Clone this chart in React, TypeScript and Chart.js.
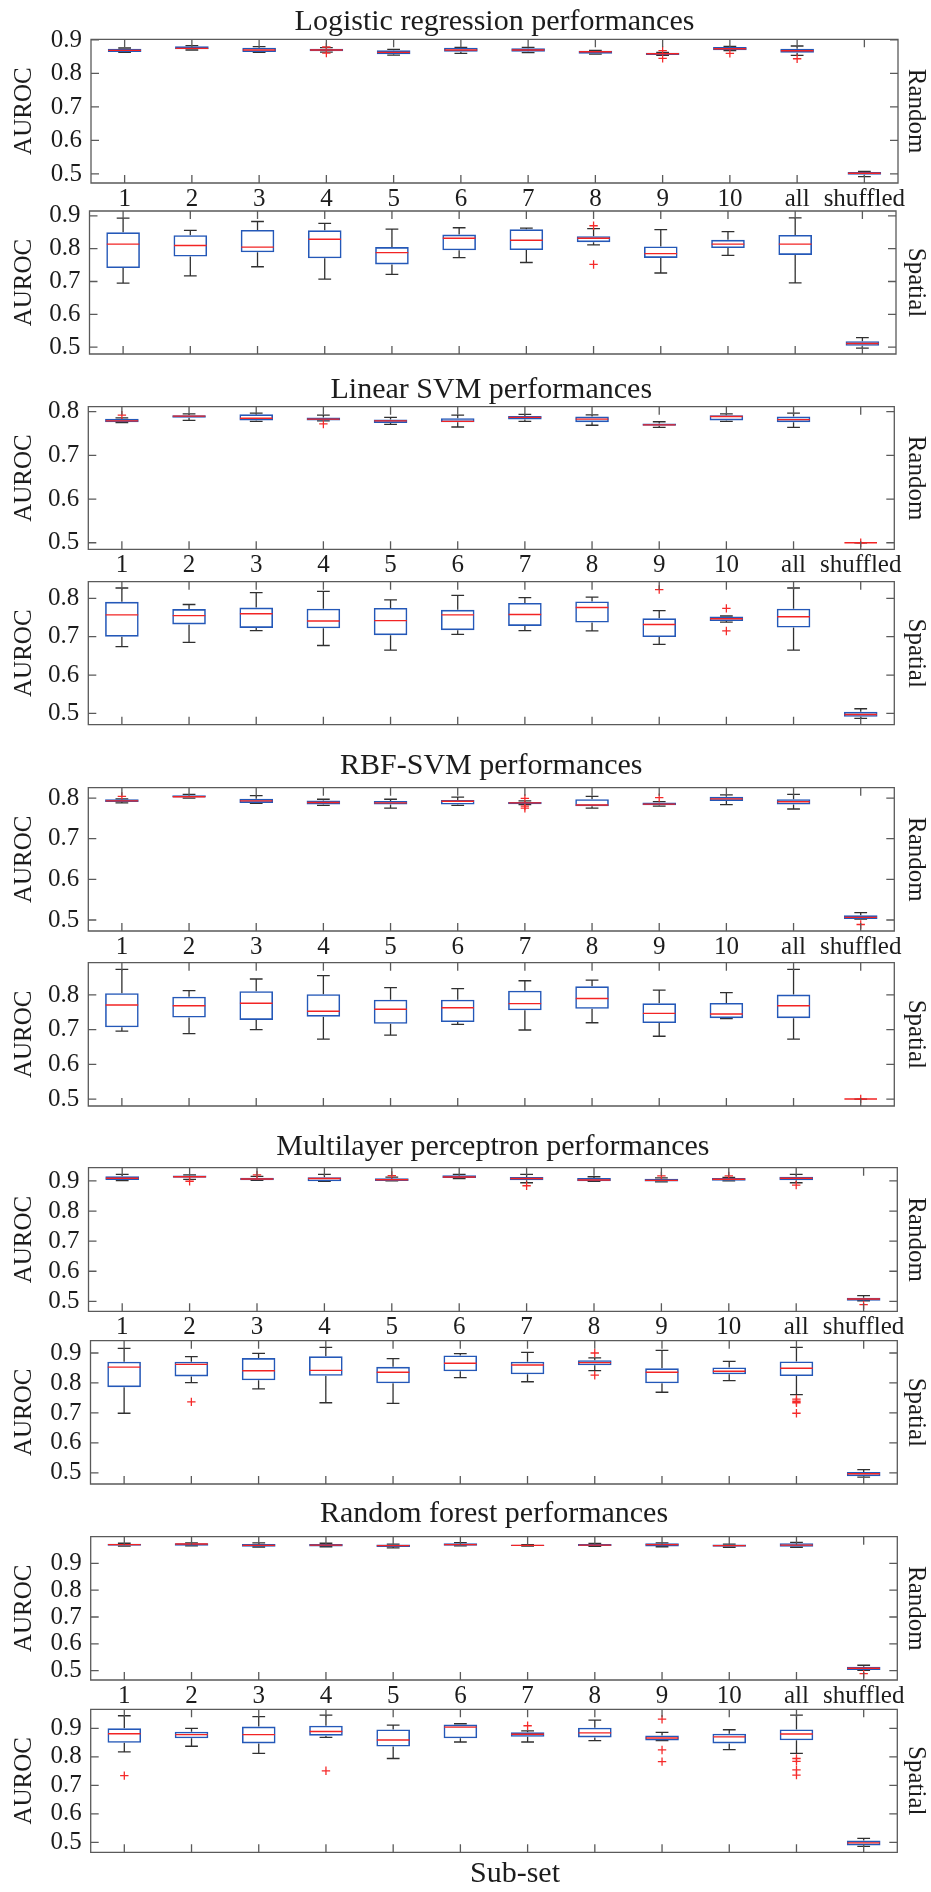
import React, { useEffect, useRef } from 'react';
import { Chart, registerables } from 'chart.js';

Chart.register(...registerables);

// ---- Data -----------------------------------------------------------------

const subsets = ['1', '2', '3', '4', '5', '6', '7', '8', '9', '10', 'all', 'shuffled'];
const ticksTo09 = [0.5, 0.6, 0.7, 0.8, 0.9];
const ticksTo08 = [0.5, 0.6, 0.7, 0.8];

// Each row: [lower whisker, Q1, median, Q3, upper whisker]
const logisticRandom = [
  [0.863, 0.864, 0.869, 0.874, 0.876],
  [0.870, 0.872, 0.875, 0.881, 0.883],
  [0.863, 0.864, 0.870, 0.877, 0.880],
  [0.864, 0.866, 0.870, 0.874, 0.877],
  [0.855, 0.857, 0.863, 0.869, 0.872],
  [0.860, 0.865, 0.870, 0.877, 0.878],
  [0.862, 0.865, 0.870, 0.875, 0.878],
  [0.858, 0.859, 0.865, 0.868, 0.869],
  [0.854, 0.855, 0.859, 0.862, 0.863],
  [0.868, 0.869, 0.874, 0.879, 0.881],
  [0.854, 0.862, 0.868, 0.874, 0.882],
  [0.492, 0.498, 0.502, 0.506, 0.508],
];
// Each row: [subset index, AUROC]
const logisticRandomOutliers = [[3, 0.879], [3, 0.861], [8, 0.868], [8, 0.845], [9, 0.860], [10, 0.844]];

const logisticSpatial = [
  [0.695, 0.741, 0.814, 0.850, 0.893],
  [0.717, 0.776, 0.810, 0.841, 0.856],
  [0.745, 0.789, 0.805, 0.857, 0.883],
  [0.707, 0.771, 0.829, 0.856, 0.877],
  [0.722, 0.752, 0.788, 0.805, 0.860],
  [0.773, 0.795, 0.832, 0.843, 0.864],
  [0.758, 0.796, 0.826, 0.859, 0.863],
  [0.812, 0.820, 0.832, 0.838, 0.861],
  [0.726, 0.772, 0.785, 0.807, 0.858],
  [0.780, 0.802, 0.814, 0.827, 0.852],
  [0.696, 0.781, 0.814, 0.842, 0.894],
  [0.497, 0.504, 0.511, 0.518, 0.529],
];
const logisticSpatialOutliers = [[7, 0.870], [7, 0.752]];

const linearSvmRandom = [
  [0.775, 0.776, 0.779, 0.784, 0.786],
  [0.780, 0.786, 0.790, 0.792, 0.795],
  [0.778, 0.780, 0.785, 0.794, 0.797],
  [0.779, 0.780, 0.783, 0.787, 0.792],
  [0.771, 0.774, 0.779, 0.782, 0.787],
  [0.765, 0.776, 0.778, 0.785, 0.792],
  [0.778, 0.782, 0.787, 0.790, 0.794],
  [0.769, 0.776, 0.783, 0.789, 0.793],
  [0.764, 0.768, 0.770, 0.773, 0.777],
  [0.778, 0.780, 0.789, 0.792, 0.795],
  [0.764, 0.776, 0.782, 0.789, 0.797],
  [0.500, 0.500, 0.500, 0.500, 0.500],
];
const linearSvmRandomOutliers = [[0, 0.792], [3, 0.772], [11, 0.500]];

const linearSvmSpatial = [
  [0.674, 0.700, 0.757, 0.791, 0.827],
  [0.685, 0.732, 0.755, 0.772, 0.784],
  [0.716, 0.723, 0.760, 0.776, 0.815],
  [0.677, 0.722, 0.741, 0.773, 0.818],
  [0.665, 0.704, 0.742, 0.775, 0.796],
  [0.706, 0.717, 0.757, 0.770, 0.808],
  [0.716, 0.728, 0.758, 0.788, 0.802],
  [0.715, 0.737, 0.776, 0.792, 0.803],
  [0.680, 0.699, 0.732, 0.748, 0.768],
  [0.738, 0.741, 0.747, 0.753, 0.754],
  [0.665, 0.724, 0.752, 0.773, 0.827],
  [0.487, 0.491, 0.497, 0.504, 0.512],
];
const linearSvmSpatialOutliers = [[8, 0.823], [9, 0.774], [9, 0.715]];

const rbfSvmRandom = [
  [0.788, 0.790, 0.793, 0.797, 0.798],
  [0.800, 0.801, 0.803, 0.807, 0.809],
  [0.787, 0.788, 0.793, 0.798, 0.806],
  [0.782, 0.784, 0.789, 0.794, 0.797],
  [0.775, 0.784, 0.788, 0.793, 0.797],
  [0.782, 0.784, 0.792, 0.795, 0.802],
  [0.784, 0.785, 0.788, 0.790, 0.793],
  [0.775, 0.780, 0.783, 0.797, 0.804],
  [0.780, 0.782, 0.785, 0.789, 0.791],
  [0.784, 0.793, 0.798, 0.803, 0.808],
  [0.773, 0.784, 0.791, 0.797, 0.809],
  [0.502, 0.5025, 0.5066, 0.5115, 0.518],
];
const rbfSvmRandomOutliers = [[0, 0.804], [6, 0.799], [6, 0.780], [6, 0.775], [8, 0.801], [11, 0.489]];

const rbfSvmSpatial = [
  [0.696, 0.707, 0.771, 0.805, 0.874],
  [0.6885, 0.735, 0.769, 0.795, 0.8125],
  [0.700, 0.728, 0.776, 0.811, 0.846],
  [0.673, 0.7375, 0.753, 0.802, 0.856],
  [0.684, 0.717, 0.759, 0.7865, 0.821],
  [0.715, 0.722, 0.763, 0.7865, 0.818],
  [0.699, 0.756, 0.775, 0.8125, 0.841],
  [0.720, 0.760, 0.790, 0.825, 0.843],
  [0.681, 0.719, 0.747, 0.776, 0.814],
  [0.732, 0.733, 0.745, 0.777, 0.807],
  [0.673, 0.733, 0.769, 0.801, 0.874],
  [0.500, 0.500, 0.500, 0.500, 0.500],
];
const rbfSvmSpatialOutliers = [[11, 0.500]];

const mlpRandom = [
  [0.901, 0.903, 0.909, 0.9155, 0.922],
  [0.9055, 0.911, 0.914, 0.918, 0.920],
  [0.902, 0.902, 0.9065, 0.911, 0.9155],
  [0.899, 0.899, 0.908, 0.912, 0.922],
  [0.900, 0.900, 0.904, 0.909, 0.913],
  [0.908, 0.910, 0.913, 0.919, 0.922],
  [0.894, 0.902, 0.908, 0.913, 0.922],
  [0.899, 0.899, 0.903, 0.910, 0.914],
  [0.897, 0.898, 0.902, 0.907, 0.910],
  [0.900, 0.901, 0.9055, 0.910, 0.912],
  [0.894, 0.902, 0.909, 0.914, 0.922],
  [0.502, 0.502, 0.508, 0.512, 0.519],
];
const mlpRandomOutliers = [[1, 0.899], [2, 0.920], [4, 0.918], [6, 0.884], [8, 0.917], [9, 0.917], [10, 0.886], [11, 0.489]];

const mlpSpatial = [
  [0.699, 0.786, 0.853, 0.871, 0.9156],
  [0.801, 0.822, 0.862, 0.871, 0.888],
  [0.780, 0.809, 0.841, 0.883, 0.899],
  [0.734, 0.824, 0.842, 0.889, 0.919],
  [0.732, 0.799, 0.836, 0.854, 0.881],
  [0.818, 0.839, 0.866, 0.892, 0.898],
  [0.804, 0.829, 0.860, 0.871, 0.902],
  [0.841, 0.859, 0.868, 0.876, 0.884],
  [0.769, 0.799, 0.836, 0.849, 0.909],
  [0.808, 0.829, 0.839, 0.852, 0.872],
  [0.761, 0.823, 0.849, 0.872, 0.919],
  [0.486, 0.489, 0.497, 0.503, 0.511],
];
const mlpSpatialOutliers = [[1, 0.737], [7, 0.900], [7, 0.826], [10, 0.746], [10, 0.739], [10, 0.734], [10, 0.699]];

const forestRandom = [
  [0.964, 0.966, 0.970, 0.973, 0.975],
  [0.965, 0.966, 0.972, 0.975, 0.976],
  [0.961, 0.962, 0.967, 0.972, 0.976],
  [0.962, 0.963, 0.968, 0.972, 0.975],
  [0.958, 0.961, 0.966, 0.970, 0.972],
  [0.965, 0.966, 0.970, 0.975, 0.977],
  [0.964, 0.965, 0.967, 0.969, 0.970],
  [0.963, 0.965, 0.968, 0.972, 0.974],
  [0.962, 0.963, 0.970, 0.975, 0.976],
  [0.960, 0.962, 0.966, 0.970, 0.972],
  [0.960, 0.962, 0.968, 0.975, 0.978],
  [0.501, 0.502, 0.509, 0.514, 0.520],
];
const forestRandomOutliers = [[11, 0.489]];

const forestSpatial = [
  [0.817, 0.849, 0.881, 0.900, 0.944],
  [0.837, 0.865, 0.878, 0.888, 0.900],
  [0.812, 0.847, 0.878, 0.906, 0.941],
  [0.868, 0.874, 0.889, 0.909, 0.946],
  [0.794, 0.836, 0.859, 0.896, 0.911],
  [0.852, 0.865, 0.904, 0.913, 0.916],
  [0.852, 0.870, 0.879, 0.886, 0.891],
  [0.857, 0.868, 0.884, 0.902, 0.929],
  [0.857, 0.857, 0.866, 0.875, 0.886],
  [0.825, 0.847, 0.870, 0.881, 0.895],
  [0.812, 0.858, 0.880, 0.896, 0.946],
  [0.486, 0.489, 0.498, 0.506, 0.514],
];
const forestSpatialOutliers = [[0, 0.734], [3, 0.751], [6, 0.909], [8, 0.932], [8, 0.824], [8, 0.783], [10, 0.794], [10, 0.784], [10, 0.754], [10, 0.736]];

const xAxisTitle = 'Sub-set';

// ---- Figure layout --------------------------------------------------------

const FIG_W = 931;
const FIG_H = 1892;
const FONT = "'Liberation Serif', 'Times New Roman', Times, 'DejaVu Serif', serif";
const TEXT = '#1c1c1c';
const AXIS = '#5a5a5a';
const BOX = '#2458b8';
const MEDIAN = '#f22424';
const WHISKER = '#303030';
const OUTLIER = '#f52a2a';

interface PanelSpec {
  id: string;
  side: 'Random' | 'Spatial';
  title?: string;
  titleMid?: number;
  stats: number[][];
  outliers: number[][];
  ticks: number[];
  yMin: number;
  yMax: number;
  top: number;
  bottom: number;
  left: number;
  right: number;
  last?: boolean;
}

const panels: PanelSpec[] = [
  { id: 'lr-r', side: 'Random', title: 'Logistic regression performances', titleMid: 22, stats: logisticRandom, outliers: logisticRandomOutliers, ticks: ticksTo09, yMin: 0.473, yMax: 0.902, top: 39.3, bottom: 183, left: 91, right: 898 },
  { id: 'lr-s', side: 'Spatial', stats: logisticSpatial, outliers: logisticSpatialOutliers, ticks: ticksTo09, yMin: 0.479, yMax: 0.915, top: 211, bottom: 354, left: 89.5, right: 896 },
  { id: 'ls-r', side: 'Random', title: 'Linear SVM performances', titleMid: 390, stats: linearSvmRandom, outliers: linearSvmRandomOutliers, ticks: ticksTo08, yMin: 0.485, yMax: 0.8115, top: 406.7, bottom: 549.3, left: 88.3, right: 894.3 },
  { id: 'ls-s', side: 'Spatial', stats: linearSvmSpatial, outliers: linearSvmSpatialOutliers, ticks: ticksTo08, yMin: 0.4704, yMax: 0.8435, top: 581.7, bottom: 724.7, left: 88.3, right: 894.3 },
  { id: 'rb-r', side: 'Random', title: 'RBF-SVM performances', titleMid: 766, stats: rbfSvmRandom, outliers: rbfSvmRandomOutliers, ticks: ticksTo08, yMin: 0.473, yMax: 0.8254, top: 787.7, bottom: 931, left: 88.3, right: 894.3 },
  { id: 'rb-s', side: 'Spatial', stats: rbfSvmSpatial, outliers: rbfSvmSpatialOutliers, ticks: ticksTo08, yMin: 0.48, yMax: 0.893, top: 962.7, bottom: 1106, left: 88.3, right: 894.3 },
  { id: 'mp-r', side: 'Random', title: 'Multilayer perceptron performances', titleMid: 1147, stats: mlpRandom, outliers: mlpRandomOutliers, ticks: ticksTo09, yMin: 0.467, yMax: 0.944, top: 1167.7, bottom: 1311.3, left: 88.5, right: 897.3 },
  { id: 'mp-s', side: 'Spatial', stats: mlpSpatial, outliers: mlpSpatialOutliers, ticks: ticksTo09, yMin: 0.463, yMax: 0.941, top: 1340.7, bottom: 1484, left: 90.5, right: 897.3 },
  { id: 'rf-r', side: 'Random', title: 'Random forest performances', titleMid: 1514.5, stats: forestRandom, outliers: forestRandomOutliers, ticks: ticksTo09, yMin: 0.465, yMax: 0.9994, top: 1536.7, bottom: 1680, left: 90.7, right: 897.3 },
  { id: 'rf-s', side: 'Spatial', stats: forestSpatial, outliers: forestSpatialOutliers, ticks: ticksTo09, yMin: 0.465, yMax: 0.9667, top: 1709.3, bottom: 1852.3, left: 90.7, right: 897.3, last: true },
];

const TITLE_LH = 33; // 30px title font * 1.1 line height
const X_TITLE_CENTER = 515; // horizontal centre of the shared x-axis caption
const X_TITLE_MID = 1874; // vertical centre of the shared x-axis caption

function geometry(p: PanelSpec) {
  if (p.side === 'Random') {
    const titleTop = (p.titleMid as number) - TITLE_LH / 2;
    const canvasTop = Math.floor(titleTop);
    const canvasBottom = Math.ceil(p.bottom + 26);
    return {
      canvasTop,
      height: canvasBottom - canvasTop,
      padTop: 0,
      titlePad: { top: titleTop - canvasTop, bottom: Math.max(0, p.top - (titleTop + TITLE_LH)) },
      xHeight: canvasBottom - p.bottom,
    };
  }
  const canvasTop = Math.floor(p.top - 14);
  const canvasBottom = p.last ? FIG_H : Math.ceil(p.bottom + 6);
  return {
    canvasTop,
    height: canvasBottom - canvasTop,
    padTop: p.top - canvasTop,
    titlePad: { top: 0, bottom: 0 },
    xHeight: canvasBottom - p.bottom,
  };
}

// ---- Plugins --------------------------------------------------------------

// Box outline with inward tick marks on all four sides.
const framePlugin = {
  id: 'boxFrame',
  afterDraw(chart: any) {
    const { ctx, chartArea } = chart;
    const { left, right, top, bottom } = chartArea;
    const x = chart.scales.x;
    const y = chart.scales.y;
    const len = 8;
    ctx.save();
    ctx.strokeStyle = AXIS;
    ctx.lineWidth = 1.3;
    ctx.beginPath();
    ctx.rect(left, top, right - left, bottom - top);
    y.ticks.forEach((t: any) => {
      const py = y.getPixelForValue(t.value);
      ctx.moveTo(left, py);
      ctx.lineTo(left + len, py);
      ctx.moveTo(right, py);
      ctx.lineTo(right - len, py);
    });
    for (let i = 0; i < subsets.length; i++) {
      const px = x.getPixelForValue(i);
      ctx.moveTo(px, bottom);
      ctx.lineTo(px, bottom - len);
      ctx.moveTo(px, top);
      ctx.lineTo(px, top + len);
    }
    ctx.stroke();
    ctx.restore();
  },
};

// Shared x-axis caption under the lowest panel.
function makeCaptionPlugin(text: string, centerX: number, midY: number) {
  return {
    id: 'xCaption',
    afterDraw(chart: any) {
      const { ctx, canvas } = chart;
      const top = parseFloat(canvas.style.top || '0');
      ctx.save();
      ctx.fillStyle = TEXT;
      ctx.font = `30px ${FONT}`;
      ctx.textAlign = 'center';
      ctx.textBaseline = 'middle';
      ctx.fillText(text, centerX, midY - top);
      ctx.restore();
    },
  };
}

// Whiskers, caps and median lines for every box.
function makeBoxPlugin(stats: number[][]) {
  return {
    id: 'boxWhisker',
    beforeDatasetsDraw(chart: any) {
      const { ctx } = chart;
      const x = chart.scales.x;
      const y = chart.scales.y;
      const bars = chart.getDatasetMeta(0).data;
      ctx.save();
      ctx.strokeStyle = WHISKER;
      ctx.lineWidth = 1.3;
      ctx.beginPath();
      stats.forEach((s, i) => {
        const cx = x.getPixelForValue(i);
        const w = bars[i] ? bars[i].width : 30;
        const cap = w * 0.19;
        const [lo, q1, , q3, hi] = s.map((v) => y.getPixelForValue(v));
        ctx.moveTo(cx, q3);
        ctx.lineTo(cx, hi);
        ctx.moveTo(cx - cap, hi);
        ctx.lineTo(cx + cap, hi);
        ctx.moveTo(cx, q1);
        ctx.lineTo(cx, lo);
        ctx.moveTo(cx - cap, lo);
        ctx.lineTo(cx + cap, lo);
      });
      ctx.stroke();
      ctx.restore();
    },
    afterDatasetsDraw(chart: any) {
      const { ctx } = chart;
      const x = chart.scales.x;
      const y = chart.scales.y;
      const bars = chart.getDatasetMeta(0).data;
      ctx.save();
      ctx.strokeStyle = MEDIAN;
      ctx.lineWidth = 1.4;
      ctx.beginPath();
      stats.forEach((s, i) => {
        const cx = x.getPixelForValue(i);
        const w = bars[i] ? bars[i].width : 30;
        const py = y.getPixelForValue(s[2]);
        ctx.moveTo(cx - w / 2 + 0.5, py);
        ctx.lineTo(cx + w / 2 - 0.5, py);
      });
      ctx.stroke();
      ctx.restore();
    },
  };
}

function zeroPadding(s: any) {
  s.paddingLeft = 0;
  s.paddingRight = 0;
  s.paddingTop = 0;
  s.paddingBottom = 0;
}

// ---- Components -----------------------------------------------------------

function BoxPanel({ p }: { p: PanelSpec }) {
  const ref = useRef<HTMLCanvasElement | null>(null);
  const g = geometry(p);

  useEffect(() => {
    if (!ref.current) return;
    const isRandom = p.side === 'Random';
    const tickFont = { family: FONT, size: 25 };
    const extraPlugins: any[] = [makeBoxPlugin(p.stats), framePlugin];
    if (p.last) extraPlugins.push(makeCaptionPlugin(xAxisTitle, X_TITLE_CENTER, X_TITLE_MID));
    const chart = new Chart(ref.current, {
      type: 'bar',
      data: {
        labels: subsets,
        datasets: [
          {
            type: 'bar',
            data: p.stats.map((s) => [s[1], s[3]]),
            backgroundColor: 'rgba(0,0,0,0)',
            borderColor: BOX,
            borderWidth: 1.6,
            borderSkipped: false,
            barPercentage: 0.5,
            categoryPercentage: 1,
          } as any,
          {
            type: 'line',
            data: p.outliers.map(([i, v]) => ({ x: subsets[i], y: v })),
            showLine: false,
            pointStyle: 'cross',
            pointRadius: 4.2,
            pointBorderWidth: 1.3,
            pointBorderColor: OUTLIER,
            pointBackgroundColor: OUTLIER,
          } as any,
        ],
      },
      options: {
        responsive: false,
        animation: false,
        events: [],
        layout: { padding: { top: g.padTop, left: 0, right: 0, bottom: 0 } },
        plugins: {
          legend: { display: false },
          tooltip: { enabled: false },
          title: {
            display: isRandom,
            text: p.title || '',
            fullSize: false,
            align: 'center',
            color: TEXT,
            font: { family: FONT, size: 30, weight: 'normal', lineHeight: 1.1 },
            padding: g.titlePad,
          },
        },
        scales: {
          x: {
            type: 'category',
            offset: true,
            grid: { display: false, drawTicks: false },
            border: { display: false },
            ticks: {
              display: isRandom,
              color: TEXT,
              font: tickFont,
              padding: 1,
              maxRotation: 0,
              minRotation: 0,
              autoSkip: false,
            },
            afterFit(s: any) {
              s.height = g.xHeight;
              zeroPadding(s);
            },
          },
          y: {
            type: 'linear',
            position: 'left',
            min: p.yMin,
            max: p.yMax,
            grid: { display: false, drawTicks: false },
            border: { display: false },
            ticks: {
              color: TEXT,
              font: tickFont,
              padding: 9,
              autoSkip: false,
              callback: (v: any) => Number(v).toFixed(1),
            },
            afterBuildTicks(s: any) {
              s.ticks = p.ticks.map((v) => ({ value: v }));
            },
            title: {
              display: true,
              text: 'AUROC',
              color: TEXT,
              font: { family: FONT, size: 25, lineHeight: 1.2 },
              padding: { top: 9, bottom: 0 },
            },
            afterFit(s: any) {
              s.width = p.left;
              zeroPadding(s);
            },
          },
          yR: {
            type: 'linear',
            position: 'right',
            min: p.yMin,
            max: p.yMax,
            grid: { display: false, drawTicks: false },
            border: { display: false },
            ticks: { display: false },
            title: {
              display: true,
              text: p.side,
              color: TEXT,
              font: { family: FONT, size: 25, lineHeight: 1.2 },
              padding: { top: 0, bottom: 0 },
            },
            afterFit(s: any) {
              s.width = FIG_W - p.right;
              zeroPadding(s);
            },
          },
        },
      } as any,
      plugins: extraPlugins,
    });
    return () => chart.destroy();
  }, [p]);

  return (
    <canvas
      ref={ref}
      width={FIG_W}
      height={g.height}
      style={{ position: 'absolute', left: 0, top: g.canvasTop, width: FIG_W, height: g.height }}
    />
  );
}

export default function App() {
  return (
    <div style={{ position: 'absolute', left: 0, top: 0, width: FIG_W, height: FIG_H, background: '#ffffff' }}>
      {panels.map((p) => (
        <BoxPanel key={p.id} p={p} />
      ))}
    </div>
  );
}
